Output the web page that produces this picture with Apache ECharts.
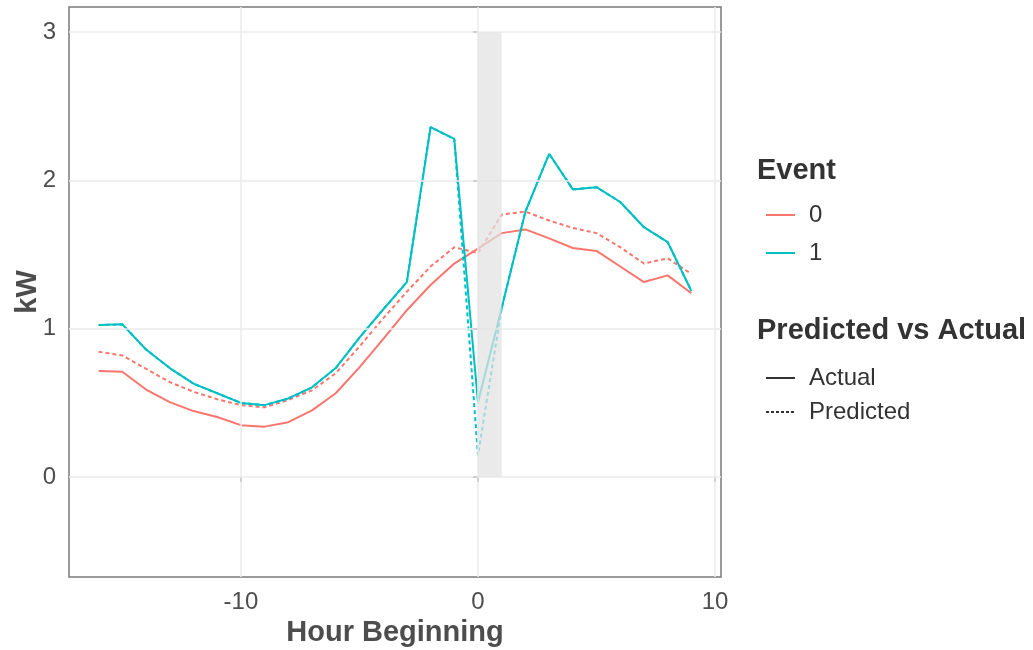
<!DOCTYPE html>
<html>
<head>
<meta charset="utf-8">
<script src="https://cdn.jsdelivr.net/npm/echarts@6/dist/echarts.min.js"></script>
<style>
html,body{margin:0;padding:0;background:#fff;}
#chart{width:1033px;height:650px;}
</style>
</head>
<body>
<div id="chart"></div>
<script>
// ---- data ----
var hours = [-16,-15,-14,-13,-12,-11,-10,-9,-8,-7,-6,-5,-4,-3,-2,-1,0,1,2,3,4,5,6,7,8,9];
var event0Actual = [0.715,0.71,0.59,0.505,0.445,0.405,0.35,0.34,0.37,0.45,0.565,0.74,0.93,1.125,1.295,1.44,1.54,1.645,1.67,1.61,1.545,1.525,1.42,1.315,1.36,1.24];
var event0Predicted = [0.845,0.82,0.73,0.64,0.575,0.525,0.485,0.47,0.52,0.585,0.70,0.88,1.07,1.25,1.42,1.55,1.51,1.77,1.79,1.73,1.68,1.645,1.55,1.44,1.475,1.37];
var event1Actual = [1.025,1.03,0.86,0.735,0.63,0.565,0.50,0.485,0.53,0.605,0.735,0.94,1.13,1.315,2.36,2.28,0.505,1.14,1.79,2.18,1.94,1.955,1.855,1.685,1.585,1.255];
var event1Predicted = [1.025,1.03,0.86,0.735,0.63,0.565,0.50,0.485,0.53,0.605,0.735,0.94,1.13,1.315,2.36,2.28,0.148,1.14,1.79,2.18,1.94,1.955,1.855,1.685,1.585,1.255];
var eventWindow = [[0, 1, 0, 3]]; // xStart, xEnd, yStart, yEnd
var xTicks = [-10, 0, 10];
var yTicks = [0, 1, 2, 3];
var eventLabels = ['0', '1'];
var typeLabels = ['Actual', 'Predicted'];

function pairs(xs, ys){ return xs.map(function(x,i){ return [x, ys[i]]; }); }

var FONT = '"Liberation Sans", Arial, sans-serif';
var C0 = '#F8766D', C1 = '#00BFC4';
var DASH = [4, 3];

var gridLines = xTicks.map(function(v){ return {xAxis: v}; })
  .concat(yTicks.map(function(v){ return {yAxis: v}; }));

var chart = echarts.init(document.getElementById('chart'), null, {renderer: 'canvas'});
chart.setOption({
  backgroundColor: '#fff',
  animation: false,
  textStyle: {fontFamily: FONT},
  grid: {left: 69, right: 312, top: 7, bottom: 73, show: true, borderColor: '#7a7a7a', borderWidth: 1.5,
         backgroundColor: 'transparent', containLabel: false, outerBoundsMode: 'none'},
  xAxis: {
    type: 'value', min: -17.25, max: 10.25,
    name: 'Hour Beginning', nameLocation: 'middle', nameGap: 39,
    nameTextStyle: {fontSize: 29, fontWeight: 'bold', color: '#4D4D4D', fontFamily: FONT},
    axisLine: {show: false},
    axisTick: {show: true, customValues: xTicks, length: 5, lineStyle: {color: '#555', width: 1.5}},
    axisLabel: {customValues: xTicks, fontSize: 24, color: '#4D4D4D', margin: 13, fontFamily: FONT},
    splitLine: {show: false}
  },
  yAxis: {
    type: 'value', min: -0.674, max: 3.17,
    name: 'kW', nameLocation: 'middle', nameGap: 27, nameRotate: 90, nameMoveOverlap: false,
    nameTextStyle: {fontSize: 29, fontWeight: 'bold', color: '#4D4D4D', fontFamily: FONT},
    axisLine: {show: false},
    axisTick: {show: true, customValues: yTicks, length: 5, lineStyle: {color: '#555', width: 1.5}},
    axisLabel: {customValues: yTicks, fontSize: 24, color: '#4D4D4D', margin: 13, fontFamily: FONT},
    splitLine: {show: false}
  },
  legend: [
    {orient: 'vertical', left: 760, top: 198, itemWidth: 29, itemHeight: 14, itemGap: 14,
     data: eventLabels, itemStyle: {opacity: 0},
     textStyle: {fontSize: 24, color: '#333', padding: [0,0,0,9], fontFamily: FONT}},
    {orient: 'vertical', left: 760, top: 361, itemWidth: 29, itemHeight: 14, itemGap: 10,
     data: typeLabels, itemStyle: {opacity: 0},
     textStyle: {fontSize: 24, color: '#333', padding: [0,0,0,9], fontFamily: FONT}}
  ],
  graphic: [
    {type: 'text', left: 757, top: 156, style: {text: 'Event', font: 'bold 29px ' + FONT, fill: '#333'}},
    {type: 'text', left: 757, top: 316, style: {text: 'Predicted vs Actual', font: 'bold 29px ' + FONT, fill: '#333'}}
  ],
  series: [
    {type: 'line', name: '__grid', data: [], silent: true, z: 1,
     markLine: {silent: true, symbol: ['none','none'], label: {show: false}, animation: false,
       lineStyle: {color: '#EBEBEB', type: 'solid', width: 1.5}, data: gridLines}},
    {type: 'line', name: '0', data: pairs(hours, event0Actual), symbol: 'none', showSymbol: false, z: 3,
     lineStyle: {color: C0, width: 2}, itemStyle: {color: C0}},
    {type: 'line', name: '0', data: pairs(hours, event0Predicted), symbol: 'none', showSymbol: false, z: 3,
     lineStyle: {color: C0, width: 2, type: DASH}, itemStyle: {color: C0}},
    {type: 'line', name: '1', data: pairs(hours, event1Actual), symbol: 'none', showSymbol: false, z: 4,
     lineStyle: {color: C1, width: 2}, itemStyle: {color: C1}},
    {type: 'line', name: '1', data: pairs(hours, event1Predicted), symbol: 'none', showSymbol: false, z: 3,
     lineStyle: {color: C1, width: 2, type: DASH}, itemStyle: {color: C1}},
    {type: 'line', name: 'Actual', data: [], symbol: 'none', showSymbol: false,
     lineStyle: {color: '#333', width: 2}, itemStyle: {color: '#333'}},
    {type: 'line', name: 'Predicted', data: [], symbol: 'none', showSymbol: false,
     lineStyle: {color: '#333', width: 1.5, type: [3, 2]}, itemStyle: {color: '#333'}},
    {type: 'custom', name: 'window', data: eventWindow, z: 10, silent: true,
     renderItem: function(params, api){
       var p0 = api.coord([api.value(0), api.value(3)]);
       var p1 = api.coord([api.value(1), api.value(2)]);
       return {type: 'rect', shape: {x: p0[0], y: p0[1], width: p1[0]-p0[0], height: p1[1]-p0[1]},
               style: {fill: 'rgba(226,226,226,0.72)'}};
     }}
  ]
});
</script>
</body>
</html>
